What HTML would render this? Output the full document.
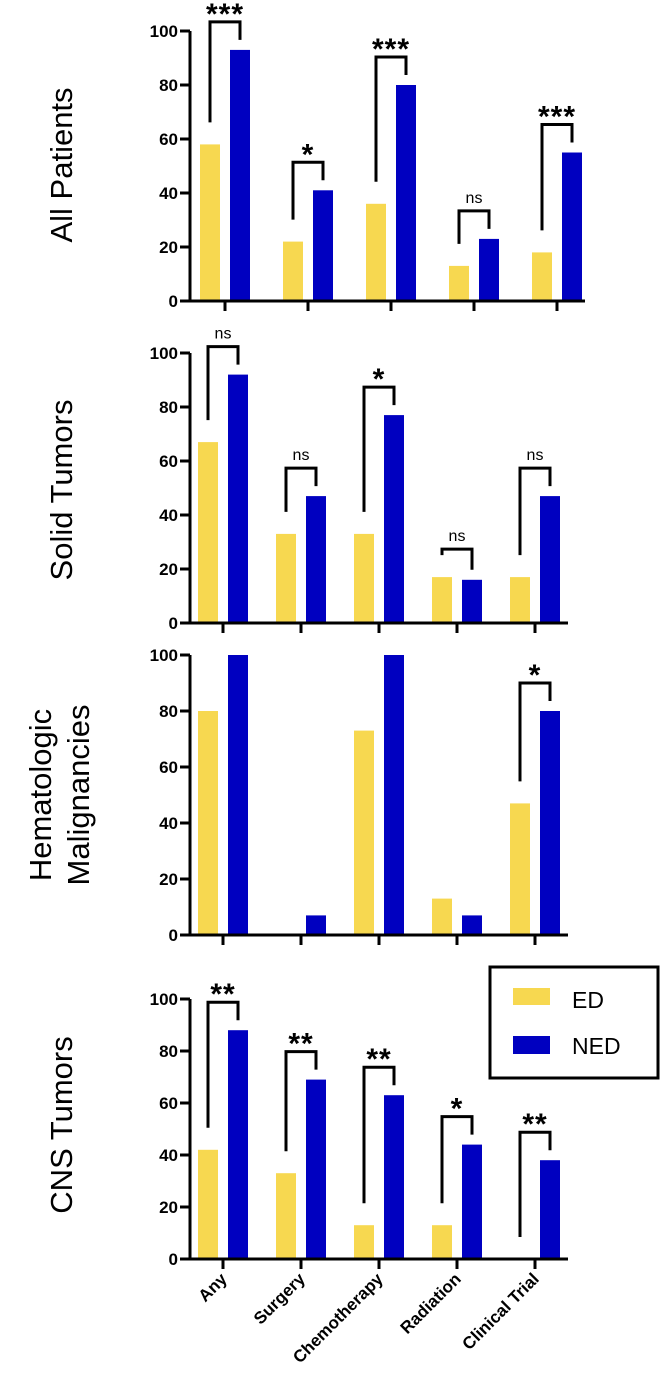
<!DOCTYPE html>
<html><head><meta charset="utf-8">
<style>
html,body{margin:0;padding:0;background:#fff;}
svg{display:block;font-family:"Liberation Sans",Arial,sans-serif;}
</style></head>
<body>
<svg id="chart" width="661" height="1395" viewBox="0 0 661 1395" xmlns="http://www.w3.org/2000/svg">
<g>
<rect x="490" y="967" width="168" height="111" fill="#fff" stroke="#000" stroke-width="3"/>
<rect x="513" y="988" width="37" height="17" fill="#f7d850"/>
<text x="572" y="1008" font-size="23">ED</text>
<rect x="513" y="1036" width="37" height="18" fill="#0000c0"/>
<text x="572" y="1054" font-size="23">NED</text>
</g>
</svg>
<script>
const categories = ["Any","Surgery","Chemotherapy","Radiation","Clinical Trial"];
const panelTitles = [["All Patients"],["Solid Tumors"],["Hematologic","Malignancies"],["CNS Tumors"]];
const edAll = [58,22,36,13,18];
const nedAll = [93,41,80,23,55];
const sigAll = ["***","*","***","ns","***"];
const edSolid = [67,33,33,17,17];
const nedSolid = [92,47,77,16,47];
const sigSolid = ["ns","ns","*","ns","ns"];
const edHeme = [80,0,73,13,47];
const nedHeme = [100,7,100,7,80];
const sigHeme = ["","","","","*"];
const edCns = [42,33,13,13,0];
const nedCns = [88,69,63,44,38];
const sigCns = ["**","**","**","*","**"];
const yTicks = [0,20,40,60,80,100];

const NS="http://www.w3.org/2000/svg";
const svg=document.getElementById('chart');
function mk(tag,attrs,parent){const e=document.createElementNS(NS,tag);for(const k in attrs)e.setAttribute(k,attrs[k]);(parent||svg).appendChild(e);return e;}

const panels=[
 {ed:edAll,ned:nedAll,sig:sigAll,y0:301,y100:31,t0:225,step:83,end:585,title:panelTitles[0],tx:62,ty:165,name:'all-patients'},
 {ed:edSolid,ned:nedSolid,sig:sigSolid,y0:623,y100:353,t0:223,step:78,end:568,title:panelTitles[1],tx:62,ty:490,name:'solid-tumors'},
 {ed:edHeme,ned:nedHeme,sig:sigHeme,y0:935,y100:655,t0:223,step:78,end:568,title:panelTitles[2],tx:60,ty:795,name:'hematologic'},
 {ed:edCns,ned:nedCns,sig:sigCns,y0:1259,y100:999,t0:223,step:78,end:568,title:panelTitles[3],tx:62,ty:1125,name:'cns-tumors'}
];
panels.forEach((p,pi)=>{
 const g=mk('g',{});
 
 
 const ys=v=>p.y0-(p.y0-p.y100)*v/100;
 const xs=i=>p.t0+i*p.step;
 const ax=190;
 const tt=mk('text',{transform:`translate(${p.tx},${p.ty}) rotate(-90)`,'text-anchor':'middle','font-size':31},g);
 
 
 p.title.forEach((l,li)=>{const ts=mk('tspan',{x:0,y:(li-(p.title.length-1)/2)*38+10},tt);ts.textContent=l;});
 categories.forEach((c,i)=>{
  const x=xs(i);
  const yb=ys(p.ed[i]),nb=ys(p.ned[i]);
  const r1=mk('rect',{x:x-25,y:yb,width:20,height:p.y0-yb,fill:'#f7d850'},g);
  
  
  const r2=mk('rect',{x:x+5,y:nb,width:20,height:p.y0-nb,fill:'#0000c0'},g);
  
  
  if(p.sig[i]){
   const lx=x-15,rx=x+15,top=Math.min(nb,yb)-28;
   const br=mk('path',{d:`M${lx},${yb-22} V${top} H${rx} V${nb-10}`,fill:'none',stroke:'#000','stroke-width':3},g);
   
   
   const isNs=p.sig[i]==='ns';
   const st=mk('text',{x:x,y:isNs?top-8:top+2,'text-anchor':'middle','font-size':isNs?16:30,'font-weight':isNs?'normal':'bold','letter-spacing':isNs?0:1},g);
   st.textContent=p.sig[i];
   
   
  }
  const tk=mk('line',{x1:x,x2:x,y1:p.y0,y2:p.y0+10,stroke:'#000','stroke-width':3},g);
  
  
 });
 const axl=mk('path',{d:`M${ax},${p.y100} V${p.y0} H${p.end}`,fill:'none',stroke:'#000','stroke-width':3},g);
 
 
 yTicks.forEach(v=>{
  const y=ys(v);
  const l=mk('line',{x1:ax-10,x2:ax,y1:y,y2:y,stroke:'#000','stroke-width':3},g);
  
  
  const t=mk('text',{x:ax-12,y:y+6,'text-anchor':'end','font-size':17,'font-weight':'bold'},g);
  t.textContent=v;
  
  
 });
 if(pi===3){
  categories.forEach((c,i)=>{
   const x=xs(i)+5;
   const t=mk('text',{transform:`translate(${x},1280) rotate(-45)`,'text-anchor':'end','font-size':17,'font-weight':'bold'},g);
   t.textContent=c;
   
   
  });
 }
});
</script>
</body></html>
